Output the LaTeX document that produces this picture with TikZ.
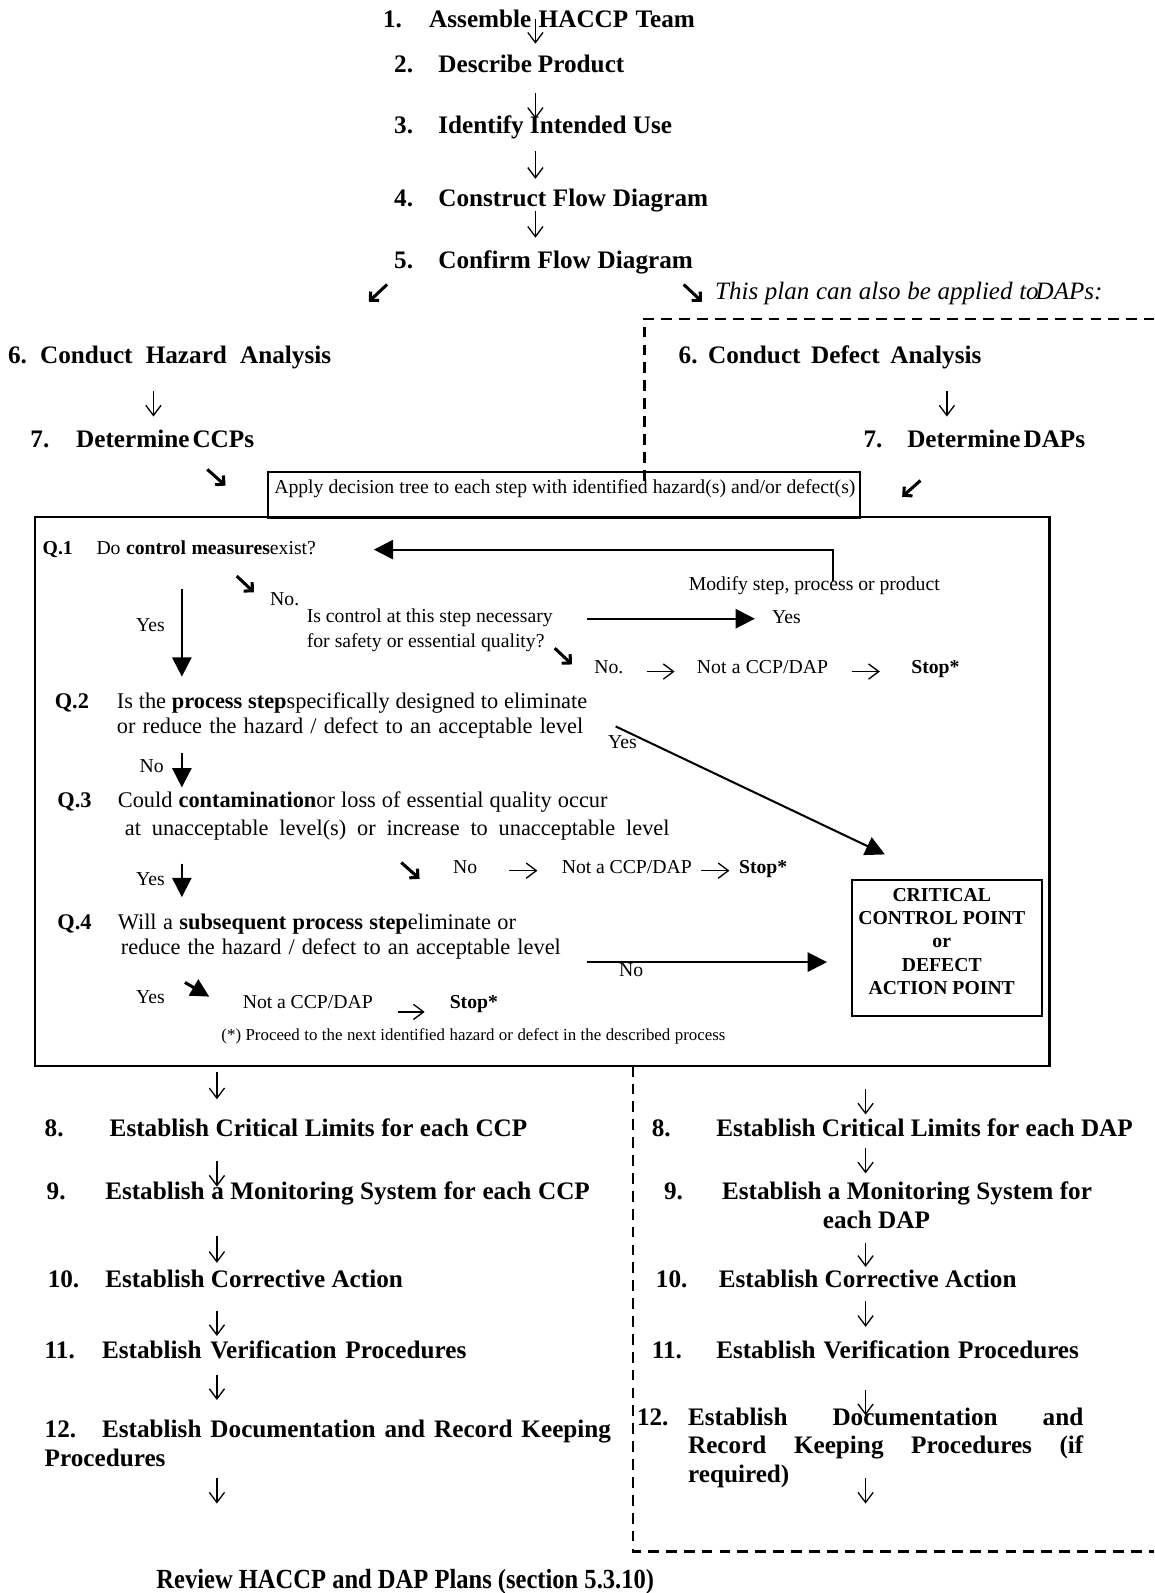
\documentclass[tikz,border=0pt]{standalone}
\usepackage{fontspec}
\setmainfont{Liberation Serif}
\usetikzlibrary{arrows.meta}
\newdimen\pxu \pxu=0.5pt
\newcommand\J[2]{\makebox[#1\pxu][s]{#2}}
\newcommand\hfnt{\fontsize{12.4}{15}\selectfont\bfseries}
\newcommand\rfnt{\fontsize{13.6}{16}\selectfont\bfseries}
\newcommand\sfnt{\fontsize{9.7}{12}\selectfont}
\newcommand\mfnt{\fontsize{11}{13}\selectfont}
\newcommand\tfnt{\fontsize{8.3}{10}\selectfont}
\newcommand\ifnt{\fontsize{12.3}{15}\selectfont\itshape}
\newcommand\conn[4]{\coordinate (#2s) at (#3); \coordinate (#2e) at (#4); \draw[#1] (#2s) -- (#2e);}
\tikzset{
  txt/.style={anchor=base west, inner sep=0pt, outer sep=0pt},
  hd/.style={txt, font=\hfnt},
  sm/.style={txt, font=\sfnt},
  sb/.style={txt, font=\sfnt\bfseries},
  md/.style={txt, font=\mfnt},
  mb/.style={txt, font=\mfnt\bfseries},
  tn/.style={txt, font=\tfnt},
  itx/.style={txt, font=\ifnt},
  thinarr/.style={line width=0.65pt, -{Straight Barb[length=5pt,width=7.5pt]}},
  heavyarr/.style={line width=1.5pt, line cap=butt, -{Straight Barb[angle=90:4.3pt]}},
  filledarr/.style={line width=1pt, -{Triangle[length=9.5pt,width=9.5pt]}},
  smallarr/.style={line width=1.5pt, -{Triangle[length=9pt,width=9pt]}},
  dashline/.style={line width=1.4pt, dash pattern=on 5.3pt off 3.5pt},
  boxx/.style={draw, anchor=north west, inner sep=0pt, outer sep=0pt}
}
\begin{document}
\begin{tikzpicture}[x=0.5pt,y=-0.5pt]
\fill[white] (0,0) rectangle (1136,1568);
\useasboundingbox (0,0) rectangle (1136,1568);

% ---- top steps
\node[hd] (n1num) at (377,27) {1.};
\node[hd] (n1) at (422.5,27) {\J{261.5}{Assemble HACCP Team}};
\conn{thinarr}{a1}{527,19}{527,43}
\node[hd] (n2num) at (388,71) {2.};
\node[hd] (n2) at (431.5,71) {\J{183}{Describe Product}};
\conn{thinarr}{a2}{527,92}{527,117}
\node[hd] (n3num) at (388,131) {3.};
\node[hd] (n3) at (431.5,131) {\J{230}{Identify Intended Use}};
\conn{thinarr}{a3}{527,149}{527,176}
\node[hd] (n4num) at (388,203) {4.};
\node[hd] (n4) at (431.5,203) {\J{265.5}{Construct Flow Diagram}};
\conn{thinarr}{a4}{527,208}{527,234}
\node[hd] (n5num) at (388,264) {5.};
\node[hd] (n5) at (431.5,264) {\J{250.5}{Confirm Flow Diagram}};
\conn{heavyarr}{d1}{381,280}{363,297}
\conn{heavyarr}{d2}{673,280}{691,297}
\node[itx] (note) at (704,295) {\J{381}{This plan can also be applied to\kern-1.5pt DAPs:}};

% dashed frame (top)
\coordinate (dA) at (634,473);
\coordinate (dB) at (634,314);
\coordinate (dC) at (1136,314);
\draw[dashline] (dA) -- (dB) -- (dC);

% ---- step 6/7
\node[hd] (h6) at (8,357.5) {\J{318}{6.\ Conduct Hazard Analysis}};
\conn{thinarr}{a6}{151,385}{151,410}
\node[hd] (h7num) at (30,440) {7.};
\node[hd] (h7) at (75,440) {\J{174}{Determine\kern1.5pt CCPs}};
\conn{heavyarr}{d3}{204,462}{222,478}
\node[hd] (r6) at (668,357.5) {\J{298}{6.\ Conduct Defect Analysis}};
\conn{thinarr}{a6r}{932,385}{932,410}
\node[hd] (r7num) at (850,440) {7.};
\node[hd] (r7) at (893,440) {\J{175}{Determine\kern1.5pt DAPs}};
\conn{heavyarr}{d4}{906,473}{888,489}

% ---- apply box and main box
\node[boxx, line width=1pt, minimum width=291.5pt, minimum height=22.2pt] (applybox) at (263.5,465) {};
\node[sm] (applytxt) at (270,486) {\J{572}{Apply decision tree to each step with identified hazard(s) and/or defect(s)}};
\node[boxx, line width=1.2pt, minimum width=499.2pt, minimum height=270pt] (mainbox) at (34.5,509) {};

% Q1
\node[sb] (q1lab) at (42,546) {Q.1};
\node[sm] (q1) at (95,546) {\J{216}{Do \textbf{control measures}exist?}};
\coordinate (modbot) at (820,572);
\coordinate (modtop) at (820,541);
\coordinate (q1tip) at (368,541);
\draw[filledarr] (modbot) -- (modtop) -- (q1tip);
\node[sm] (modify) at (678,581) {\J{247}{Modify step, process or product}};
\conn{heavyarr}{d5}{233,567}{250,583}
\node[sm] (no1) at (266,596) {No.};
\node[sm] (ctl1) at (302,613) {\J{242}{Is control at this step necessary}};
\node[sm] (ctl2) at (302,637) {\J{234}{for safety or essential quality?}};
\conn{filledarr}{r1}{578,609}{743,609}
\node[sm] (yes2) at (760,614) {Yes};
\conn{heavyarr}{d6}{546,638}{563,654}
\node[sm] (no2) at (585,663) {No.};
\conn{thinarr}{r2}{637,661}{664,661}
\node[sm] (nc1) at (686,663) {\J{129}{Not a CCP/DAP}};
\conn{thinarr}{r3}{839,661}{866,661}
\node[sb] (stop1) at (897,663) {Stop*};
\node[sm] (yes1) at (134,622) {Yes};
\conn{filledarr}{dn1}{179,580}{179,666}

% Q2
\node[mb] (q2lab) at (54,697) {Q.2};
\node[md] (q2a) at (115,697) {\J{463}{Is the \textbf{process step}specifically designed to eliminate}};
\node[md] (q2b) at (115,722) {\J{459}{or reduce the hazard / defect to an acceptable level}};
\node[sm] (yes5) at (598.5,737) {Yes};
\conn{filledarr}{dg}{606,715}{871,841}
\node[sm] (no3) at (137.5,760) {No};
\conn{filledarr}{dn2}{179,741}{179,775}

% Q3
\node[mb] (q3lab) at (56.5,795) {Q.3};
\node[md] (q3a) at (116,795) {\J{482}{Could \textbf{contamination}or loss of essential quality occur}};
\node[md] (q3b) at (123,822) {\J{536}{at unacceptable level(s) or increase to unacceptable level}};
\conn{heavyarr}{d7}{395,849}{413,865}
\node[sm] (no4) at (446,860) {No};
\conn{thinarr}{r4}{501,857}{529,857}
\node[sm] (nc2) at (553,860) {\J{128}{Not a CCP/DAP}};
\conn{thinarr}{r5}{690,857}{718,857}
\node[sb] (stop2) at (727.5,860) {Stop*};
\node[sm] (yes3) at (134,872) {Yes};
\conn{filledarr}{dn3}{179,850}{179,883}

% Q4
\node[mb] (q4lab) at (56.5,915) {Q.4};
\node[md] (q4a) at (116,915) {\J{392}{Will a \textbf{subsequent process step}eliminate or}};
\node[md] (q4b) at (119,940) {\J{433}{reduce the hazard / defect to an acceptable level}};
\conn{filledarr}{r6}{578,947}{814,947}
\node[sm] (no5) at (609.5,961) {No};
\node[sm] (yes4) at (134,988) {Yes};
\conn{smallarr}{d8}{182,967}{206,981}
\node[sm] (nc3) at (239,993) {\J{128}{Not a CCP/DAP}};
\conn{thinarr}{r7}{392,996}{418,996}
\node[sb] (stop3) at (442.7,993) {Stop*};
\node[tn] (foot) at (218,1024) {\J{496}{(*) Proceed to the next identified hazard or defect in the described process}};

% CCP box
\node[boxx, line width=1pt, minimum width=93.5pt, minimum height=67pt] (ccp) at (839,866) {};
\node[sb, anchor=base] (ccp1) at (927,887) {CRITICAL};
\node[sb, anchor=base] (ccp2) at (927,910) {CONTROL POINT};
\node[sb, anchor=base] (ccp3) at (927,933) {or};
\node[sb, anchor=base] (ccp4) at (927,956) {DEFECT};
\node[sb, anchor=base] (ccp5) at (927,979) {ACTION POINT};

% dashed frame (bottom)
\coordinate (dD) at (623,1049);
\coordinate (dE) at (623,1527);
\coordinate (dF) at (1136,1527);
\draw[dashline] (dD) -- (dE) -- (dF);

% ---- lower left
\conn{thinarr}{b1}{213.5,1055}{213.5,1082}
\node[hd] (n8num) at (44,1119) {8.};
\node[hd] (n8) at (108,1119) {\J{411}{Establish Critical Limits for each CCP}};
\conn{thinarr}{b2}{213.5,1143}{213.5,1168}
\node[hd] (n9num) at (46,1181) {9.};
\node[hd] (n9) at (103.6,1181) {\J{477}{Establish a Monitoring System for each CCP}};
\conn{thinarr}{b3}{213.5,1217}{213.5,1243}
\node[hd] (n10num) at (47,1267) {10.};
\node[hd] (n10) at (103.6,1267) {\J{293}{Establish Corrective Action}};
\conn{thinarr}{b4}{213.5,1290}{213.5,1315}
\node[hd] (n11num) at (44,1337) {11.};
\node[hd] (n11) at (100.5,1337) {\J{358.5}{Establish Verification Procedures}};
\conn{thinarr}{b5}{213.5,1353}{213.5,1378}
\node[hd] (n12num) at (44,1415) {12.};
\node[hd] (n12) at (100.5,1415) {\J{501}{Establish Documentation and Record Keeping}};
\node[hd] (n12b) at (44,1443) {Procedures};
\conn{thinarr}{b6}{213.5,1455}{213.5,1480}
\node[txt, font=\rfnt] (review) at (154,1564) {\scalebox{0.888}[1]{Review HACCP and DAP Plans (section 5.3.10)}};

% ---- lower right
\conn{thinarr}{c1}{852,1072}{852,1097}
\node[hd] (m8num) at (641.6,1119) {8.};
\node[hd] (m8) at (705,1119) {\J{410}{Establish Critical Limits for each DAP}};
\conn{thinarr}{c2}{852,1130}{852,1155}
\node[hd] (m9num) at (653.7,1181) {9.};
\node[hd] (m9) at (710.8,1181) {\J{364}{Establish a Monitoring System for}};
\node[hd] (m9b) at (810,1209) {each DAP};
\conn{thinarr}{c3}{852,1223}{852,1247}
\node[hd] (m10num) at (645.6,1267) {10.};
\node[hd] (m10) at (707.6,1267) {\J{293}{Establish Corrective Action}};
\conn{thinarr}{c4}{852,1281}{852,1306}
\node[hd] (m11num) at (641.6,1337) {11.};
\node[hd] (m11) at (705,1337) {\J{357}{Establish Verification Procedures}};
\conn{thinarr}{c5}{852,1368}{852,1393}
\node[hd] (m12num) at (627,1403) {12.};
\node[hd] (m12a) at (677.3,1403) {\J{389}{Establish Documentation and}};
\node[hd] (m12b) at (677.3,1431) {\J{389}{Record Keeping Procedures (if}};
\node[hd] (m12c) at (677.3,1459) {required)};
\conn{thinarr}{c6}{852,1455}{852,1480}
\end{tikzpicture}
\end{document}
